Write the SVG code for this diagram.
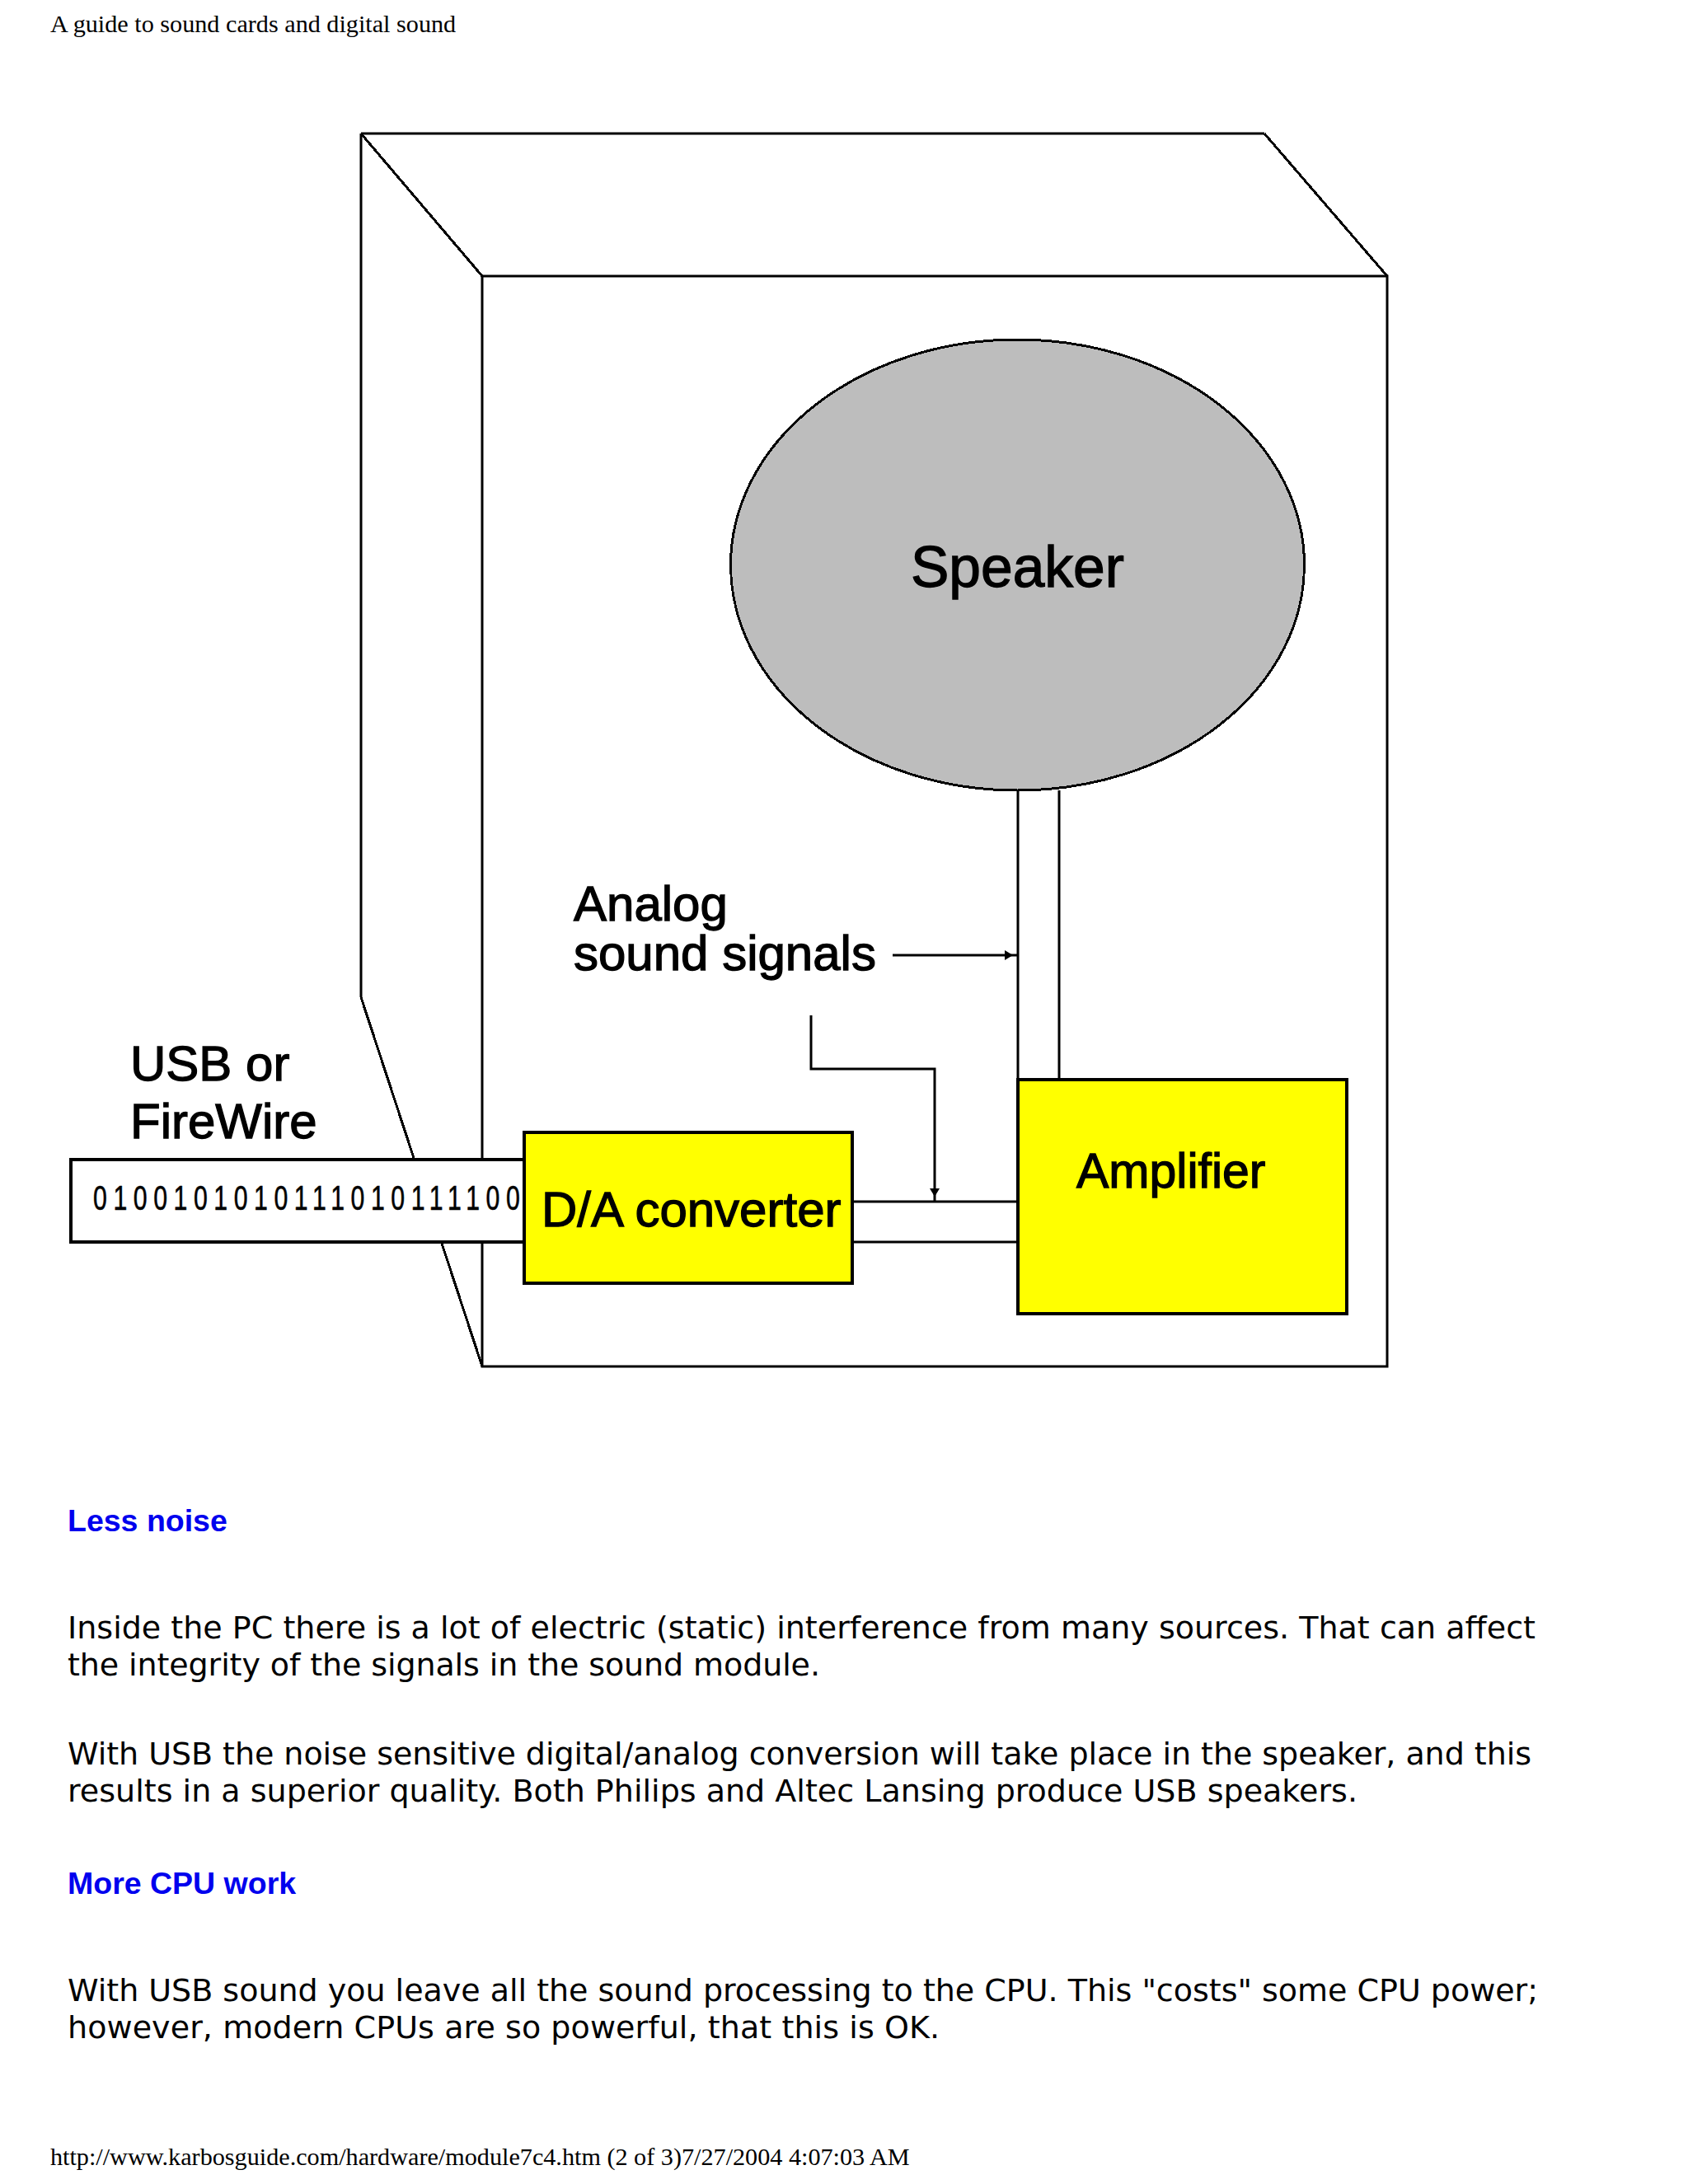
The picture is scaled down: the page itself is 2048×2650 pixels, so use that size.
<svg xmlns="http://www.w3.org/2000/svg" width="2048" height="2650" viewBox="0 0 2048 2650">
<style>
.ln{fill:none;stroke:#000;stroke-width:3}
.th{fill:none;stroke:#000;stroke-width:3;shape-rendering:crispEdges}
.lab{font-family:"Liberation Sans",Arial,sans-serif;fill:#000;stroke:#000;stroke-width:1.3}
.bits{font-family:"Liberation Sans",Arial,sans-serif;fill:#000;stroke:#000;stroke-width:.6;font-size:42px}
.body{font-family:"DejaVu Sans",Verdana,sans-serif;font-size:38px;fill:#000}
.head{font-family:"Liberation Sans",Arial,sans-serif;font-size:37.5px;font-weight:700;fill:#0000ee}
.page{font-family:"Liberation Serif","Times New Roman",serif;font-size:30.2px;fill:#000}
</style>
<defs><marker id="ah" markerWidth="12" markerHeight="12" refX="16" refY="6" orient="auto" markerUnits="userSpaceOnUse" overflow="visible"><path d="M0 0L10 6L0 12Z" fill="#000"/></marker></defs>
<rect width="2048" height="2650" fill="#fff"/>
<text class="page" x="61" y="39">A guide to sound cards and digital sound</text>
<g id="cabinet">
<path class="ln" d="M438 162H1534"/>
<path class="th" d="M1534 162L1683 335"/>
<path class="ln" d="M438 162V1210"/>
<path class="th" d="M438 1210L585 1658"/>
<path class="th" d="M438 162L585 335"/>
<rect class="ln" x="585" y="335" width="1098" height="1323"/>
</g>
<g id="connectors">
<path class="ln" d="M1235 959V1310M1285 959V1310"/>
<path class="ln" d="M1034 1458H1235M1034 1507H1235"/>
<path class="ln" d="M1083 1159H1235" marker-end="url(#ah)"/>
<path class="ln" d="M984 1232V1297H1134V1458" marker-end="url(#ah)"/>
</g>
<g id="speaker">
<ellipse cx="1234.5" cy="685.5" rx="348" ry="273.5" fill="#bdbdbd" stroke="#000" stroke-width="3" shape-rendering="crispEdges"/>
<text class="lab" x="1105" y="712" font-size="69.5">Speaker</text>
</g>
<g id="analog-label"><text class="lab" x="696" y="1117" font-size="60">Analog</text><text class="lab" x="696" y="1177" font-size="60">sound signals</text></g>
<g id="usb-label"><text class="lab" x="158" y="1311" font-size="60">USB or</text><text class="lab" x="158" y="1381" font-size="60">FireWire</text></g>
<g id="bus">
<rect x="86" y="1407" width="552" height="100" fill="#fff" stroke="#000" stroke-width="4"/>
<text class="bits" transform="translate(113 1468) scale(.72 1)" x="0" y="0" textLength="753">01001010101110101111001</text>
</g>
<g id="da-converter">
<rect x="636" y="1374" width="398" height="183" fill="#ff0" stroke="#000" stroke-width="4"/>
<text class="lab" x="657" y="1488" font-size="60">D/A converter</text>
</g>
<g id="amplifier">
<rect x="1235" y="1310" width="399" height="284" fill="#ff0" stroke="#000" stroke-width="4"/>
<text class="lab" x="1306" y="1441" font-size="59">Amplifier</text>
</g>
<text class="head" x="82" y="1858">Less noise</text>
<text class="body" x="82" y="1988" textLength="1781">Inside the PC there is a lot of electric (static) interference from many sources. That can affect</text>
<text class="body" x="82" y="2033" textLength="913">the integrity of the signals in the sound module.</text>
<text class="body" x="82" y="2141" textLength="1776">With USB the noise sensitive digital/analog conversion will take place in the speaker, and this</text>
<text class="body" x="82" y="2186" textLength="1565">results in a superior quality. Both Philips and Altec Lansing produce USB speakers.</text>
<text class="head" x="82" y="2298">More CPU work</text>
<text class="body" x="82" y="2428" textLength="1784">With USB sound you leave all the sound processing to the CPU. This "costs" some CPU power;</text>
<text class="body" x="82" y="2473" textLength="1058">however, modern CPUs are so powerful, that this is OK.</text>
<text class="page" x="61" y="2627">http://www.karbosguide.com/hardware/module7c4.htm (2 of 3)7/27/2004 4:07:03 AM</text>
</svg>
